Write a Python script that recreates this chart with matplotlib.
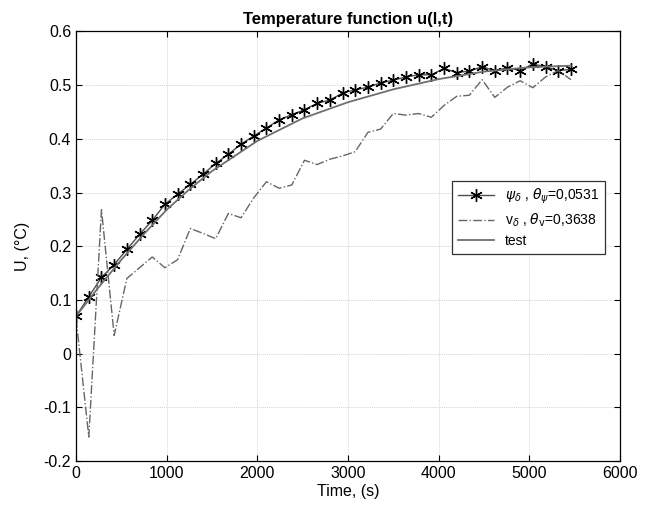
import matplotlib
matplotlib.use("Agg")
import matplotlib.pyplot as plt
import numpy as np

plt.rcParams['font.family'] = ['Liberation Sans', 'DejaVu Sans']
plt.rcParams['mathtext.fontset'] = 'dejavusans'

# time grid of the computed series (s)
t = np.arange(40) * 140

# psi_delta series (stars)
psi = [0.070, 0.106, 0.142, 0.166, 0.194, 0.222, 0.248, 0.278, 0.297, 0.315,
       0.334, 0.354, 0.371, 0.390, 0.405, 0.420, 0.435, 0.445, 0.454, 0.466,
       0.472, 0.485, 0.491, 0.496, 0.504, 0.509, 0.515, 0.519, 0.519, 0.531,
       0.523, 0.526, 0.534, 0.527, 0.532, 0.527, 0.539, 0.534, 0.527, 0.529]

# v_delta series (dash-dot)
v = [0.065, -0.155, 0.268, 0.034, 0.140, 0.160, 0.180, 0.160, 0.175, 0.233,
     0.224, 0.214, 0.261, 0.253, 0.290, 0.320, 0.308, 0.314, 0.360, 0.352,
     0.362, 0.368, 0.376, 0.412, 0.418, 0.447, 0.444, 0.447, 0.440, 0.462,
     0.479, 0.481, 0.510, 0.477, 0.496, 0.508, 0.495, 0.515, 0.527, 0.510]

# test solution
test_t = [0, 250, 500, 750, 1000, 1250, 1500, 2000, 2500, 3000, 3500, 4000, 4500, 5000, 5460]
test_u = [0.070, 0.124, 0.175, 0.223, 0.268, 0.306, 0.340, 0.396, 0.438, 0.468,
          0.492, 0.511, 0.525, 0.533, 0.536]

fig = plt.figure(figsize=(6.45, 5.13), dpi=100)
ax = fig.add_axes([0.118, 0.101, 0.843, 0.838])

ax.plot(t, psi, color='#4d4d4d', lw=1.0, marker=(6, 2, 0), markersize=9,
        markerfacecolor='black', markeredgecolor='black', markeredgewidth=1.0,
        label=r'$\psi_\delta$ , $\theta_\psi$=0,0531')
ax.plot(t, v, color='#666666', lw=1.0, linestyle='-.',
        label=r'v$_\delta$ , $\theta_{\rm v}$=0,3638')
ax.plot(test_t, test_u, color='#6e6e6e', lw=1.3, label='test')

ax.set_xlim(0, 6000)
ax.set_ylim(-0.2, 0.6)
ax.set_xticks(np.arange(0, 6001, 1000))
ax.set_yticks(np.arange(-0.2, 0.61, 0.1))
ax.set_yticklabels(['-0.2', '-0.1', '0', '0.1', '0.2', '0.3', '0.4', '0.5', '0.6'])
ax.tick_params(direction='in', top=True, right=True, labelsize=11.5, length=4)
ax.grid(True, color='#d4d4d4', lw=0.7, linestyle=(0, (1, 1)))
for s in ax.spines.values():
    s.set_linewidth(0.9)

ax.set_title('Temperature function u(l,t)', fontsize=12, fontweight='bold', pad=5)
ax.set_xlabel('Time, (s)', fontsize=11.5, labelpad=2)
ax.set_ylabel('U, (°C)', fontsize=11.5, labelpad=10)

leg = ax.legend(loc='upper right', bbox_to_anchor=(0.985, 0.668), fontsize=10,
                fancybox=False, framealpha=1, edgecolor='#333333',
                handlelength=2.6, borderpad=0.4, labelspacing=0.4)
leg.get_frame().set_linewidth(0.9)

fig.savefig('out.png', dpi=100)
